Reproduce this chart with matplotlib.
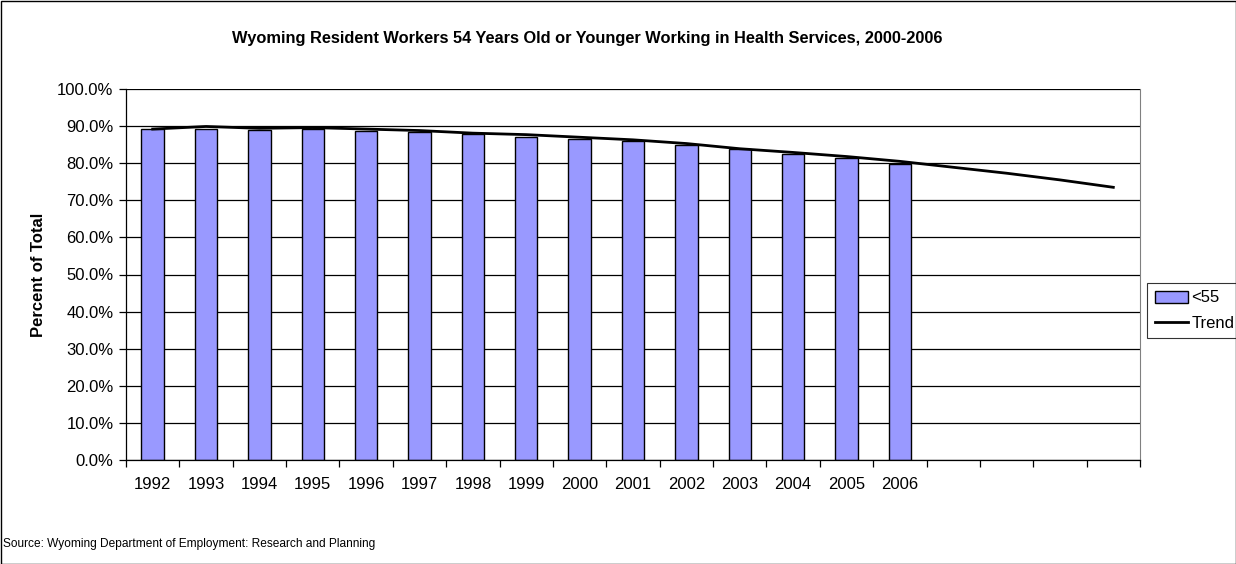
import matplotlib
matplotlib.use("Agg")
import matplotlib.pyplot as plt
import numpy as np
from matplotlib.patches import Rectangle

plt.rcParams['font.family'] = ['Liberation Sans', 'DejaVu Sans']

years = ["1992", "1993", "1994", "1995", "1996", "1997", "1998", "1999",
         "2000", "2001", "2002", "2003", "2004", "2005", "2006",
         "", "", "", ""]
under55 = [89.2, 89.2, 88.9, 89.2, 88.8, 88.3, 87.9, 87.0,
           86.4, 85.9, 85.0, 83.7, 82.6, 81.3, 79.8]
trend = [89.2, 89.9, 89.4, 89.6, 89.2, 88.8, 88.1, 87.7, 87.0, 86.3,
         85.3, 83.9, 82.9, 81.8, 80.5, 78.9, 77.3, 75.5, 73.5]

fig = plt.figure(figsize=(12.36, 5.64), dpi=100)
ax = fig.add_axes([126/1236, 1-460/564, (1140-126)/1236, (460-89)/564])

x_bar = np.arange(len(under55))
x_tr = np.arange(len(trend))
bars = ax.bar(x_bar, under55, width=0.42, color="#9999FF", edgecolor="black", linewidth=1.0,
              label="<55", zorder=2)
line, = ax.plot(x_tr, trend, color="black", linewidth=2.0, label="Trend", zorder=3)

ax.set_xlim(-0.5, len(years) - 0.5)
ax.set_ylim(0, 100)
ax.set_yticks(np.arange(0, 101, 10))
ax.set_yticklabels([f"{v:.1f}%" for v in range(0, 101, 10)], fontsize=12)
ax.yaxis.grid(True, color="black", linewidth=0.9, zorder=0)
ax.set_axisbelow(True)

ax.set_xticks(np.arange(len(years) + 1) - 0.5)
ax.set_xticklabels([])
ax.set_xticks(np.arange(len(years)), minor=True)
ax.set_xticklabels(years, minor=True, fontsize=12)
ax.tick_params(axis="x", which="major", direction="out", length=5, width=0.9)
ax.tick_params(axis="x", which="minor", length=0, pad=12)
ax.tick_params(axis="y", direction="out", length=5, width=0.9, pad=4)

ax.spines["top"].set_visible(False)
ax.spines["right"].set_color("#808080")
ax.spines["left"].set_linewidth(0.9)
ax.spines["bottom"].set_linewidth(0.9)

ax.set_ylabel("Percent of Total", fontsize=12, fontweight="bold", labelpad=8)

fig.text(0.475, 1-38/564, "Wyoming Resident Workers 54 Years Old or Younger Working in Health Services, 2000-2006",
         ha="center", va="center", fontsize=11.8, fontweight="bold")
fig.text(3/1236, 1-544/564, "Source: Wyoming Department of Employment: Research and Planning",
         ha="left", va="center", fontsize=8.6)

leg = ax.legend([bars, line], ["<55", "Trend"], loc="upper left",
                bbox_to_anchor=(1147/1236, 1-283/564), bbox_transform=fig.transFigure,
                frameon=True, fancybox=False, fontsize=12, handlelength=2.0, handletextpad=0.2,
                borderpad=0.45, labelspacing=0.6, borderaxespad=0)
leg.get_frame().set_edgecolor("black")
leg.get_frame().set_linewidth(0.8)

fig.patches.append(Rectangle((0.5/1236, 0.5/564), 1-1/1236, 1-1/564, transform=fig.transFigure,
                             fill=False, edgecolor="black", linewidth=1.0))

fig.savefig("out.png", dpi=100)
